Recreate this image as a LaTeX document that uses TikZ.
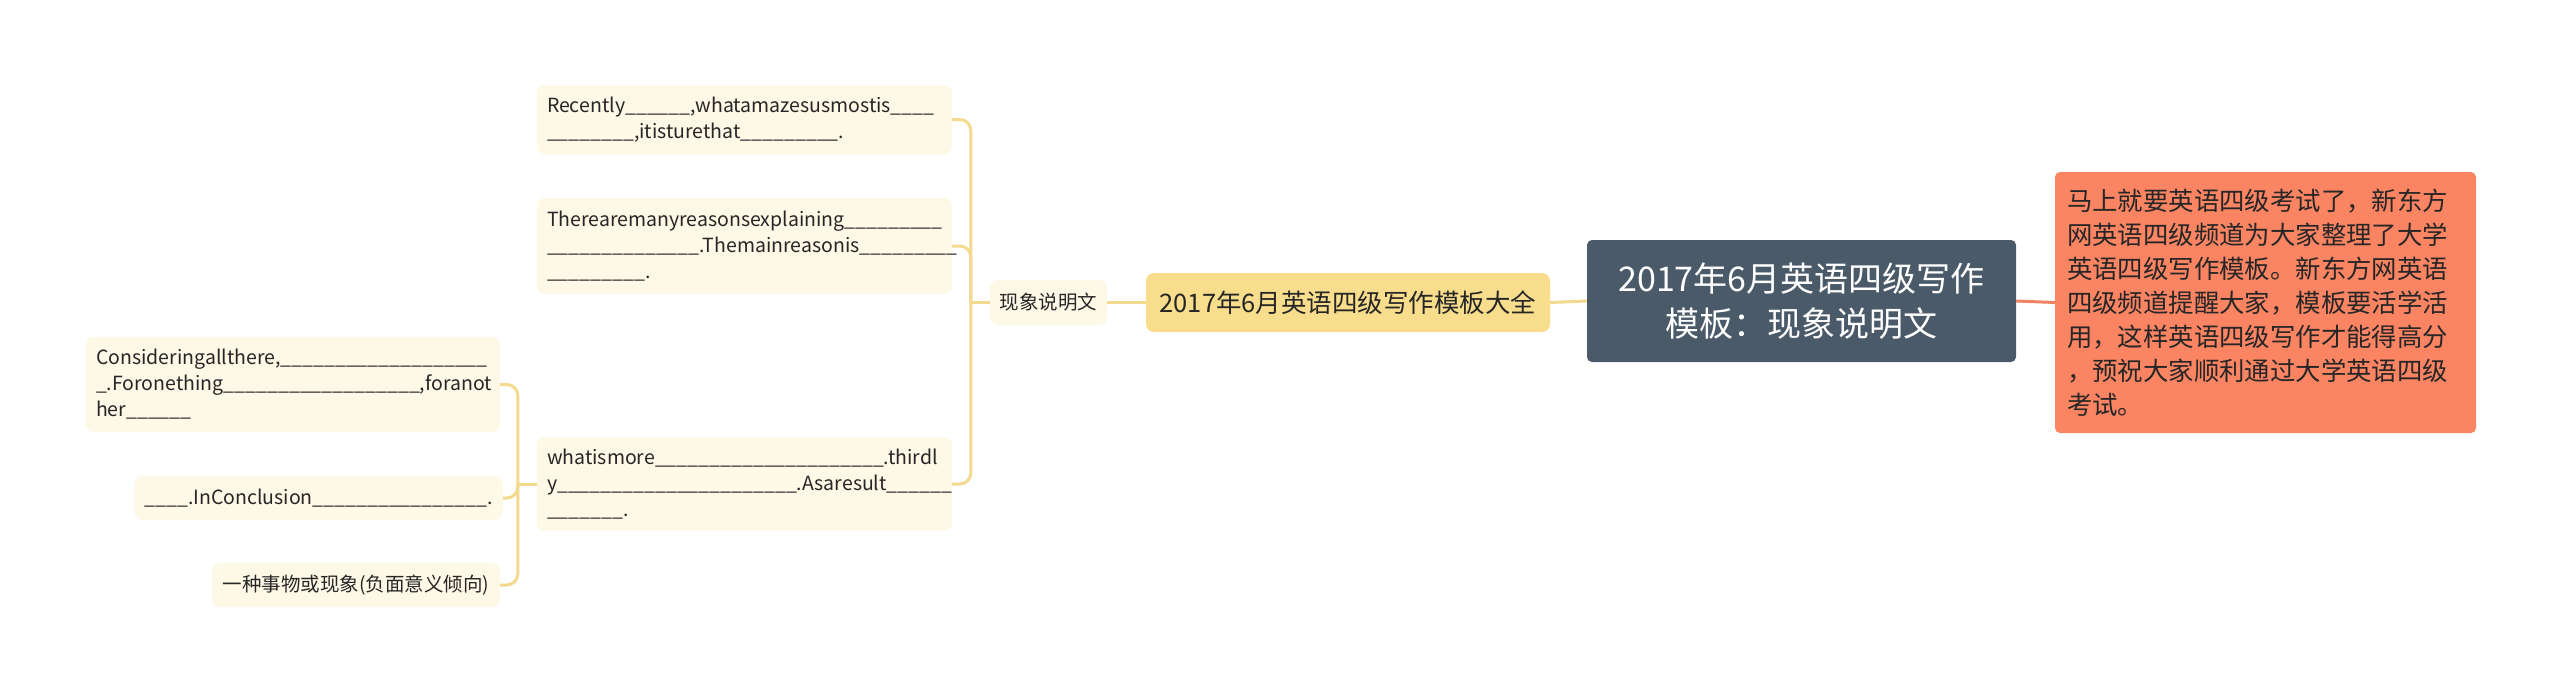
\documentclass[tikz,border=0pt]{standalone}
\usepackage{fontspec}
\setmainfont{Noto Sans CJK SC}
\definecolor{leafc}{HTML}{FEF8E6}
\definecolor{linec}{HTML}{F4DA8E}
\definecolor{mainc}{HTML}{F8DD8C}
\definecolor{rootc}{HTML}{4A5A69}
\definecolor{orangec}{HTML}{FB8463}
\definecolor{oline}{HTML}{EE8464}
\definecolor{txt}{HTML}{262626}
\newcommand\bk[1]{\foreach \ii in {1,...,#1}{\_}}
\begin{document}
\begin{tikzpicture}[x=1pt,y=-1pt,
 box/.style={rounded corners=8pt, inner xsep=10pt, inner ysep=0pt, align=left, text=txt},
 leaf/.style={box, fill=leafc, font=\fontsize{19.5}{26}\selectfont},
 conn/.style={draw=linec, line width=3pt, rounded corners=11pt},
]
\useasboundingbox[fill=white] (0,0) rectangle (2560,693);

% root
\node[box, rounded corners=5pt, fill=rootc, text=white, align=center,
  minimum width=429pt, minimum height=122pt,
  font=\fontsize{34}{45}\selectfont] (root) at (1801.5,301)
  {2017年6月英语四级写作\\模板：现象说明文};

% right note
\node[box, rounded corners=5pt, fill=orangec, inner xsep=12pt,
  minimum width=421pt, minimum height=261pt, text width=397pt,
  font=\fontsize{25.4}{34}\selectfont] (note) at (2265.5,302.5)
  {马上就要英语四级考试了，新东方\\网英语四级频道为大家整理了大学\\英语四级写作模板。新东方网英语\\四级频道提醒大家，模板要活学活\\用，这样英语四级写作才能得高分\\，预祝大家顺利通过大学英语四级\\考试。};

% main branch
\node[box, fill=mainc, align=center, minimum width=404pt, minimum height=59pt,
  font=\fontsize{25.5}{30}\selectfont] (main) at (1348,302.5)
  {2017年6月英语四级写作模板大全};

\node[leaf, align=center, inner xsep=8pt, minimum width=117pt, minimum height=45pt] (xs) at (1048.5,302.5) {现象说明文};

\node[leaf, minimum width=415pt, minimum height=69pt, text width=395pt] (n1) at (744.5,119.5)
 {Recently\bk{6},whatamazesusmostis\bk{4}\\\bk{8},itisturethat\bk{9}.};
\node[leaf, minimum width=415pt, minimum height=96pt, text width=395pt] (n2) at (744.5,246)
 {Therearemanyreasonsexplaining\bk{9}\\\bk{14}.Themainreasonis\bk{9}\\\bk{9}.};
\node[leaf, minimum width=415pt, minimum height=94pt, text width=395pt] (n3) at (744.5,484)
 {whatismore\bk{21}.thirdl\\y\bk{22}.Asaresult\bk{6}\\\bk{7}.};

\node[leaf, minimum width=414pt, minimum height=95pt, text width=394pt] (ca) at (293,384.5)
 {Consideringallthere,\bk{19}\\\bk{1}.Foronething\bk{18},foranot\\her\bk{6}};
\node[leaf, minimum width=363pt, minimum height=44pt] (cb) at (318.5,498)
 {\bk{4}.InConclusion\bk{16}.};
\node[leaf, minimum width=288pt, minimum height=44pt] (cc) at (356,585)
 {一种事物或现象(负面意义倾向)};

% connectors
\draw[conn] (root.west) -- (main.east);
\draw[draw=oline, line width=3pt] (root.east) -- (note.west);
\draw[conn] (main.west) -- (xs.east);
\draw[conn] (xs.west) -- ++(-19,0) coordinate (j1);
\draw[conn] (j1) |- (n1.east);
\draw[conn] (j1) |- (n2.east);
\draw[conn] (j1) |- (n3.east);
\draw[conn] (n3.west) -- ++(-19,0) coordinate (j2);
\draw[conn] (j2) |- (ca.east);
\draw[conn] (j2) |- (cb.east);
\draw[conn] (j2) |- (cc.east);
\end{tikzpicture}
\end{document}
